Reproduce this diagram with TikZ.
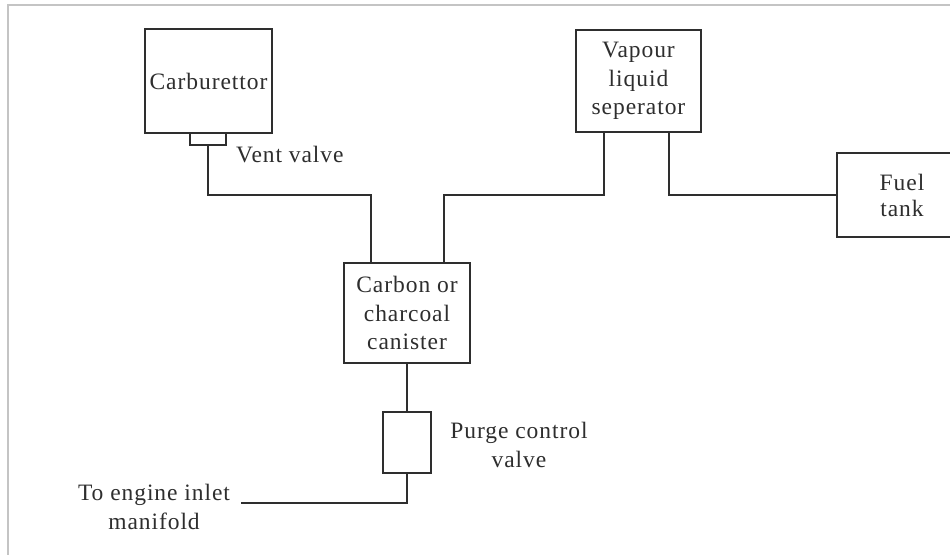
\documentclass[tikz,border=0pt]{standalone}
\usepackage{fontspec}
\setmainfont{Liberation Serif}[LetterSpace=4.0]
\usetikzlibrary{calc}
\definecolor{ink}{HTML}{2E2E2E}
\definecolor{framegray}{HTML}{C4C4C4}
\tikzset{
  box/.style={draw=ink, line width=1.6pt, rectangle, inner sep=0pt, align=center, text=ink,
              font=\fontsize{23.5}{28.5}\selectfont},
  lbl/.style={inner sep=0pt, align=center, text=ink, font=\fontsize{23.5}{28.5}\selectfont},
  pipe/.style={draw=ink, line width=1.6pt, line cap=rect},
  framel/.style={draw=framegray, line width=1.2pt}
}
\begin{document}
\begin{tikzpicture}[x=1pt,y=-1pt]
\clip (0,0) rectangle (950,555);
\fill[white] (0,0) rectangle (950,555);
% scan frame
\coordinate (fA) at (950,5);
\coordinate (fB) at (8,5);
\coordinate (fC) at (8,555);
\draw[framel] (fA) -- (fB) -- (fC);

% nodes
\node[box, minimum width=127pt, minimum height=104pt] (carb) at (208.5,81) {Carburettor};
\node[box, minimum width=36pt, minimum height=12pt] (vent) at (208,139) {};
\node[lbl, anchor=base west] (ventlbl) at (236,162) {Vent valve};
\node[box, minimum width=125pt, minimum height=102pt] (vap) at (638.5,81) {Vapour\\liquid\\seperator};
\node[box, minimum width=130pt, minimum height=84pt, font=\fontsize{23.5}{26}\selectfont] (fuel) at (902,195) {Fuel\\tank};
\node[box, minimum width=126pt, minimum height=100pt] (can) at (407,313) {Carbon or\\charcoal\\canister};
\node[box, minimum width=48pt, minimum height=61pt] (purge) at (407,442.5) {};
\node[lbl] (purgelbl) at (519,445) {Purge control\\valve};
\node[lbl] (englbl) at (154,507) {To engine inlet\\manifold};

% connectors
\coordinate (canL) at ([xshift=28pt]can.north west);
\coordinate (canR) at ([xshift=-27pt]can.north east);
\coordinate (vapL) at ([xshift=29pt]vap.south west);
\coordinate (vapR) at ([xshift=-33pt]vap.south east);
\coordinate (engend) at (242,503);

\draw[pipe] (vent.south) -- ++(0,49) -| (canL);
\draw[pipe] (vapL) -- ++(0,62) -| (canR);
\draw[pipe] (vapR) |- (fuel.west);
\draw[pipe] (can.south) -- (purge.north);
\draw[pipe] (purge.south) |- (engend);
\end{tikzpicture}
\end{document}
